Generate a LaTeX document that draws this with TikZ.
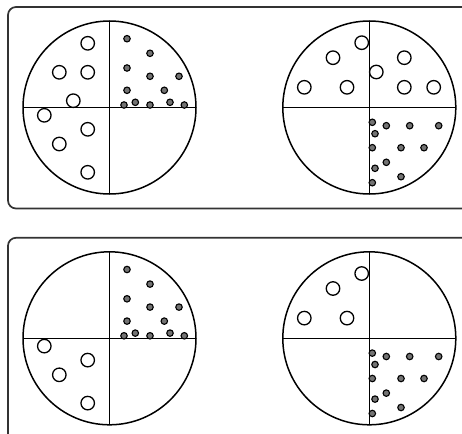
\documentclass[tikz,border=0pt]{standalone}
\usetikzlibrary{positioning}

\begin{document}
\begin{tikzpicture}[
    x=1pt, y=-1pt,
    panel/.style={draw=black!80, line width=1.7pt, rounded corners=8pt},
    dish/.style={draw, line width=1.5pt},
    bigcell/.style={circle, draw, line width=1.3pt, minimum size=13.5pt, inner sep=0pt},
    smallcell/.style={circle, draw=black, line width=1.1pt, fill=black!55, minimum size=6.5pt, inner sep=0pt}
]
\clip (0,0) rectangle (462,433);

% two panels, both running off the right edge
\draw [panel] (8,7) rectangle (490,208.5);
\draw [panel] (8,237.8) rectangle (490,460);

% dish centres
\coordinate (dishA) at (109.5,107.5);
\coordinate (dishB) at (369.3,107.5);
\coordinate (dishC) at (109.5,338.3);
\coordinate (dishD) at (369.3,338.3);

\foreach \d in {dishA, dishB, dishC, dishD} {
  \draw [dish] (\d) circle (86.5pt);
  \draw [dish] ([yshift=86.5pt]\d) -- ([yshift=-86.5pt]\d);
  \draw [dish] ([xshift=-86.5pt]\d) -- ([xshift=86.5pt]\d);
}

% top panel, left dish
\begin{scope}[shift={(dishA)}]
  \foreach \x/\y [count=\i] in {-21.8/-64.2, -50.2/-35.2, -21.8/-35.2, -36.2/-6.8,
                                 -65.2/7.8, -21.8/21.8, -50.2/36.5, -21.8/64.8}
    \node [bigcell] (a\i) at (\x,\y) {};
  \foreach \x/\y [count=\i] in {17.5/-68.8, 40.5/-54.2, 17.5/-39.5, 40.5/-31.2, 69.5/-31.2,
                                 17.5/-17.2, 54.8/-17.2, 14.5/-2.5, 25.8/-5.2, 40.5/-2.5,
                                 60.5/-5.2, 74.8/-2.5}
    \node [smallcell] (ad\i) at (\x,\y) {};
\end{scope}

% top panel, right dish
\begin{scope}[shift={(dishB)}]
  \foreach \x/\y [count=\i] in {-7.6/-64.8, -36.3/-49.8, -65/-20.2, -22.3/-20.2,
                                 7/-35.5, 35/-49.8, 35/-20.2, 64.4/-20.2}
    \node [bigcell] (b\i) at (\x,\y) {};
  \foreach \x/\y [count=\i] in {3/14.8, 17/18.2, 40.4/18.2, 69.4/18.2, 5.7/26.2, 3/40.2,
                                 31.7/40.2, 54.7/40.2, 17/54.8, 5.7/60.8, 31.7/69.2, 3/75.2}
    \node [smallcell] (bd\i) at (\x,\y) {};
\end{scope}

% bottom panel, left dish
\begin{scope}[shift={(dishC)}]
  \foreach \x/\y [count=\i] in {-65.2/7.8, -21.8/21.8, -50.2/36.5, -21.8/64.8}
    \node [bigcell] (c\i) at (\x,\y) {};
  \foreach \x/\y [count=\i] in {17.5/-68.8, 40.5/-54.2, 17.5/-39.5, 40.5/-31.2, 69.5/-31.2,
                                 17.5/-17.2, 54.8/-17.2, 14.5/-2.5, 25.8/-5.2, 40.5/-2.5,
                                 60.5/-5.2, 74.8/-2.5}
    \node [smallcell] (cd\i) at (\x,\y) {};
\end{scope}

% bottom panel, right dish
\begin{scope}[shift={(dishD)}]
  \foreach \x/\y [count=\i] in {-7.6/-64.8, -36.3/-49.8, -65/-20.2, -22.3/-20.2}
    \node [bigcell] (d\i) at (\x,\y) {};
  \foreach \x/\y [count=\i] in {3/14.8, 17/18.2, 40.4/18.2, 69.4/18.2, 5.7/26.2, 3/40.2,
                                 31.7/40.2, 54.7/40.2, 17/54.8, 5.7/60.8, 31.7/69.2, 3/75.2}
    \node [smallcell] (dd\i) at (\x,\y) {};
\end{scope}
\end{tikzpicture}
\end{document}
